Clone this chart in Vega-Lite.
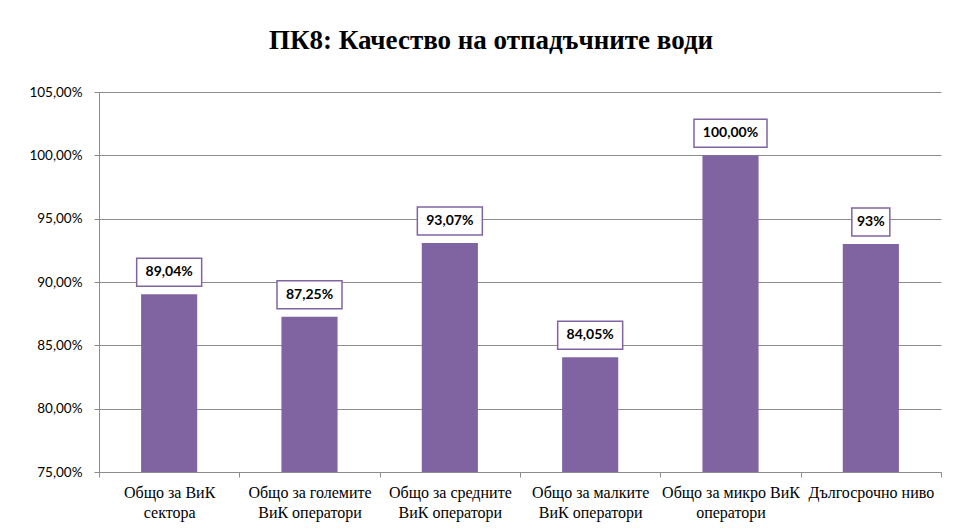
{
  "$schema": "https://vega.github.io/schema/vega-lite/v6.json",
  "autosize": "none",
  "width": 842,
  "height": 380,
  "padding": {"left": 99, "top": 92, "right": 15, "bottom": 59},
  "background": "white",
  "title": {
    "text": "ПК8: Качество на отпадъчните води",
    "font": "Liberation Serif",
    "fontSize": 27,
    "fontWeight": "bold",
    "color": "black",
    "anchor": "middle",
    "dx": -29,
    "offset": 30
  },
  "data": {
    "values": [
      {"cat": "Общо за ВиК сектора", "value": 89.04, "label": "89,04%"},
      {"cat": "Общо за големите ВиК оператори", "value": 87.25, "label": "87,25%"},
      {"cat": "Общо за средните ВиК оператори", "value": 93.07, "label": "93,07%"},
      {"cat": "Общо за малките ВиК оператори", "value": 84.05, "label": "84,05%"},
      {"cat": "Общо за микро ВиК оператори", "value": 100.0, "label": "100,00%"},
      {"cat": "Дългосрочно ниво", "value": 93.0, "label": "93%"}
    ]
  },
  "encoding": {
    "x": {
      "field": "cat",
      "type": "nominal",
      "sort": null,
      "title": null,
      "scale": {"paddingInner": 0, "paddingOuter": 0},
      "axis": {
        "tickBand": "extent",
        "labelAngle": 0,
        "labelFont": "Liberation Serif",
        "labelFontSize": 16,
        "labelColor": "black",
        "labelLineHeight": 20,
        "labelPadding": 7,
        "labelLimit": 200,
        "domainColor": "#8c8c8c",
        "tickColor": "#8c8c8c",
        "tickSize": 5,
        "grid": false,
        "labelExpr": "datum.value == 'Общо за ВиК сектора' ? ['Общо за ВиК', 'сектора'] : datum.value == 'Общо за големите ВиК оператори' ? ['Общо за големите', 'ВиК оператори'] : datum.value == 'Общо за средните ВиК оператори' ? ['Общо за средните', 'ВиК оператори'] : datum.value == 'Общо за малките ВиК оператори' ? ['Общо за малките', 'ВиК оператори'] : datum.value == 'Общо за микро ВиК оператори' ? ['Общо за микро ВиК', 'оператори'] : datum.value"
      }
    }
  },
  "layer": [
    {
      "mark": {"type": "bar", "color": "#8064A2", "width": {"band": 0.4}},
      "encoding": {
        "y": {
          "field": "value",
          "type": "quantitative",
          "title": null,
          "scale": {"domain": [75, 105], "nice": false, "zero": false},
          "axis": {
            "values": [75, 80, 85, 90, 95, 100, 105],
            "labelExpr": "replace(format(datum.value, '.2f'), '.', ',') + '%'",
            "labelFont": "Lato",
            "labelFontSize": 13.5,
            "labelColor": "black",
            "labelPadding": 12,
            "tickSize": 5,
            "tickColor": "#8c8c8c",
            "domainColor": "#8c8c8c",
            "gridColor": "#8c8c8c",
            "gridWidth": 1
          }
        },
        "y2": {"datum": 75}
      }
    },
    {
      "mark": {"type": "bar", "fill": "white", "stroke": "#8064A2", "strokeWidth": 1.5, "yOffset": -8, "y2Offset": -36},
      "encoding": {
        "y": {"field": "value", "type": "quantitative"},
        "y2": {"field": "value"},
        "size": {
          "condition": [
            {"test": "datum.label == '100,00%'", "value": 73},
            {"test": "datum.label == '93%'", "value": 38}
          ],
          "value": 65
        }
      }
    },
    {
      "mark": {"type": "text", "font": "Lato", "fontSize": 14, "fontWeight": "bold", "color": "black", "baseline": "middle", "dy": -22},
      "encoding": {
        "y": {"field": "value", "type": "quantitative"},
        "text": {"field": "label"}
      }
    }
  ],
  "config": {
    "view": {"stroke": null}
  }
}
